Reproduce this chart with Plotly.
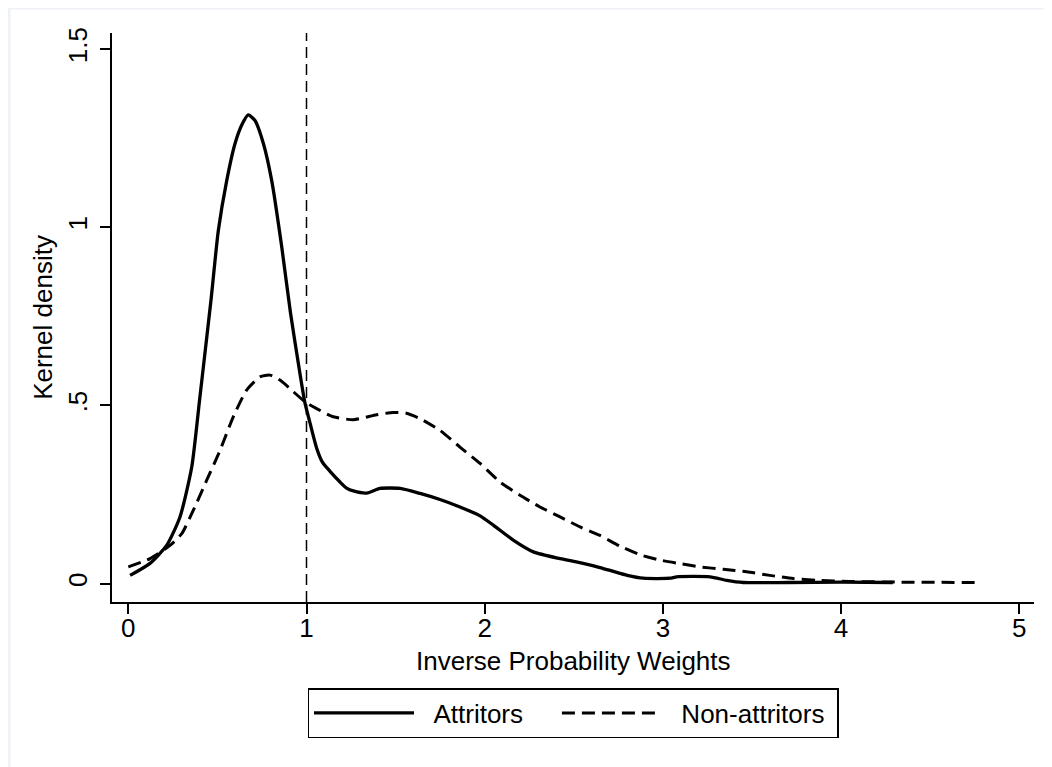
import plotly.graph_objects as go

# Attritors kernel density
attr_x = [0.01, 0.12, 0.215, 0.29, 0.356, 0.40, 0.44, 0.465, 0.505, 0.552, 0.599, 0.64, 0.673,
          0.71, 0.758, 0.805, 0.861, 0.91, 0.963, 0.99, 1.02, 1.057, 1.09, 1.132, 1.188, 1.225,
          1.263, 1.338, 1.412, 1.525, 1.637, 1.749, 1.861, 1.974, 2.048, 2.16, 2.273, 2.423,
          2.54, 2.647, 2.722, 2.80, 2.89, 3.04, 3.077, 3.264, 3.358, 3.451, 3.7, 4.0, 4.29]
attr_y = [0.023, 0.056, 0.107, 0.187, 0.327, 0.515, 0.69, 0.80, 0.99, 1.13, 1.235, 1.29, 1.315,
          1.30, 1.235, 1.13, 0.945, 0.76, 0.59, 0.51, 0.45, 0.38, 0.34, 0.315, 0.285, 0.268,
          0.26, 0.254, 0.267, 0.267, 0.253, 0.236, 0.215, 0.19, 0.164, 0.122, 0.089, 0.070,
          0.058, 0.045, 0.034, 0.023, 0.015, 0.015, 0.019, 0.019, 0.009, 0.003, 0.003, 0.004, 0.003]

# Non-attritors kernel density
non_x = [0.0, 0.122, 0.234, 0.30, 0.365, 0.44, 0.515, 0.589, 0.664, 0.739, 0.795, 0.851, 0.907,
         0.992, 1.057, 1.15, 1.263, 1.394, 1.487, 1.56, 1.637, 1.749, 1.861, 1.974, 2.086, 2.198,
         2.31, 2.423, 2.535, 2.647, 2.759, 2.871, 2.984, 3.096, 3.208, 3.339, 3.47, 3.60, 3.732,
         3.863, 4.05, 4.33, 4.76]
non_y = [0.047, 0.07, 0.107, 0.14, 0.206, 0.29, 0.374, 0.468, 0.543, 0.58, 0.585, 0.571, 0.547,
         0.51, 0.491, 0.468, 0.46, 0.474, 0.48, 0.478, 0.463, 0.43, 0.383, 0.337, 0.285, 0.248,
         0.215, 0.187, 0.159, 0.135, 0.105, 0.081, 0.066, 0.056, 0.047, 0.040, 0.033, 0.023, 0.014,
         0.009, 0.006, 0.004, 0.003]

x_ticks = [0, 1, 2, 3, 4, 5]
x_tick_labels = ["0", "1", "2", "3", "4", "5"]
y_ticks = [0, 0.5, 1, 1.5]
y_tick_labels = ["0", ".5", "1", "1.5"]
ref_x = 1

FONT = "Arial, Liberation Sans, sans-serif"
FS = 26
NB = "\u00a0"

fig = go.Figure()
fig.add_trace(go.Scatter(x=attr_x, y=attr_y, mode="lines", name=NB * 2 + "Attritors" + NB * 4,
                         line=dict(color="black", width=3.3, shape="spline", smoothing=0.6)))
fig.add_trace(go.Scatter(x=non_x, y=non_y, mode="lines", name=NB * 2 + "Non-attritors" + NB,
                         line=dict(color="black", width=3, dash="13px,7px", shape="spline", smoothing=0.6)))

fig.add_shape(type="line", xref="x", yref="paper", x0=ref_x, x1=ref_x, y0=0, y1=1,
              line=dict(color="black", width=1.5, dash="11px,6px"))

# outer light frame (top and left edges visible)
fig.add_shape(type="line", xref="paper", yref="paper", x0=-0.1117, x1=1.03, y0=1.0439, y1=1.0439,
              line=dict(color="#eef2f6", width=3))
fig.add_shape(type="line", xref="paper", yref="paper", x0=-0.1117, x1=-0.1117, y0=-0.3, y1=1.0439,
              line=dict(color="#eef2f6", width=3))

fig.add_annotation(text="Inverse Probability Weights", xref="paper", yref="paper",
                   x=0.5, y=(602 - 661) / 569, xanchor="center", yanchor="middle",
                   showarrow=False, font=dict(family=FONT, size=26, color="black"))

fig.update_layout(
    width=1044, height=759,
    margin=dict(l=104, r=18, t=25, b=165),
    paper_bgcolor="white", plot_bgcolor="white",
    font=dict(family=FONT, size=FS, color="black"),
    showlegend=True,
    legend=dict(orientation="h", x=0.5, xanchor="center", y=(602 - 688) / 569, yanchor="top",
                bordercolor="black", borderwidth=1.5, itemwidth=100,
                font=dict(family=FONT, size=FS, color="black"), bgcolor="white"),
    xaxis=dict(range=[-0.0915, 5.0825], tickmode="array", tickvals=x_ticks, ticktext=x_tick_labels,
               showgrid=False, zeroline=False, showline=True, linecolor="black", linewidth=1.5,
               ticks="outside", ticklen=10, tickwidth=1.5, tickcolor="black",
               ticklabelstandoff=-8),
    yaxis=dict(range=[-0.0517, 1.545], tickmode="array", tickvals=y_ticks, ticktext=y_tick_labels,
               tickangle=-90, showgrid=False, zeroline=False, showline=True, linecolor="black",
               linewidth=1.5, ticks="outside", ticklen=10, tickwidth=1.5, tickcolor="black",
               ticklabelstandoff=3,
               title=dict(text="Kernel density", standoff=3, font=dict(family=FONT, size=FS))),
)

fig.write_html("out.html")
